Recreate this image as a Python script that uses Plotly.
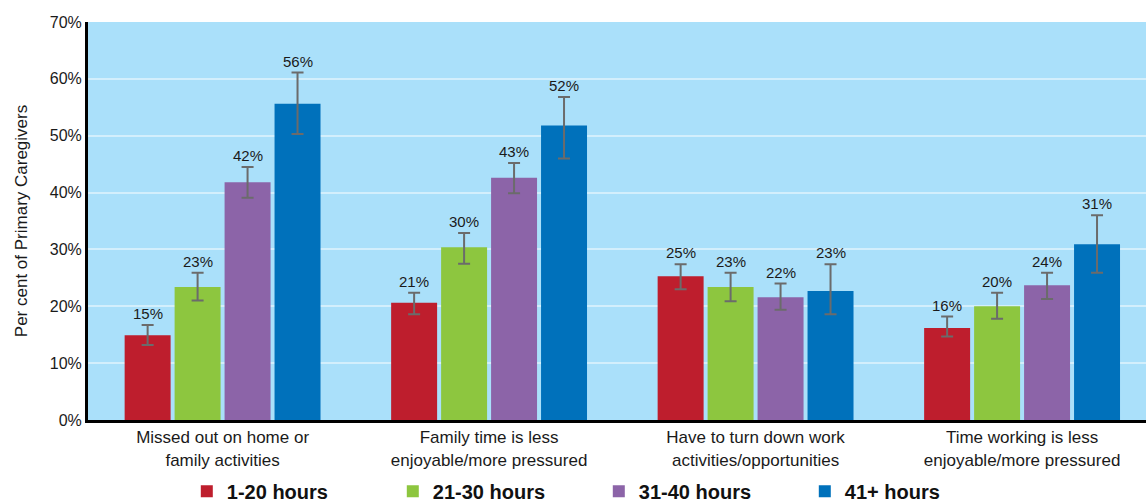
import plotly.graph_objects as go

categories = [
    "Missed out on home or<br>family activities",
    "Family time is less<br>enjoyable/more pressured",
    "Have to turn down work<br>activities/opportunities",
    "Time working is less<br>enjoyable/more pressured",
]
series_names = ["1-20 hours", "21-30 hours", "31-40 hours", "41+ hours"]
colors = ["#BE1E2D", "#8DC63F", "#8C64A8", "#0071BB"]

# values per series (one value per category)
vals_1_20 = [14.9, 20.6, 25.3, 16.2]
vals_21_30 = [23.4, 30.4, 23.4, 20.0]
vals_31_40 = [41.8, 42.6, 21.6, 23.7]
vals_41_plus = [55.6, 51.8, 22.7, 30.9]

# upper / lower confidence limits
hi_1_20 = [16.7, 22.4, 27.4, 18.2]
lo_1_20 = [13.2, 18.6, 23.0, 14.7]
hi_21_30 = [25.9, 32.9, 25.9, 22.4]
lo_21_30 = [21.0, 27.5, 20.9, 17.8]
hi_31_40 = [44.5, 45.2, 24.0, 25.9]
lo_31_40 = [39.1, 39.9, 19.4, 21.3]
hi_41_plus = [61.1, 56.8, 27.4, 36.0]
lo_41_plus = [50.3, 46.0, 18.6, 25.9]

y_ticks = [0, 10, 20, 30, 40, 50, 60, 70]

series_vals = [vals_1_20, vals_21_30, vals_31_40, vals_41_plus]
series_hi = [hi_1_20, hi_21_30, hi_31_40, hi_41_plus]
series_lo = [lo_1_20, lo_21_30, lo_31_40, lo_41_plus]

FONT = "Liberation Sans, Arial, Helvetica, sans-serif"
bargap = 0.25
bargroupgap = 0.08

fig = go.Figure()
for name, col, v, hi, lo in zip(series_names, colors, series_vals, series_hi, series_lo):
    fig.add_trace(go.Bar(
        name=name,
        x=categories,
        y=v,
        marker=dict(color=col, line=dict(width=0)),
        error_y=dict(
            type="data", symmetric=False,
            array=[h - a for h, a in zip(hi, v)],
            arrayminus=[a - l for a, l in zip(v, lo)],
            color="#6B6B6B", thickness=2, width=6,
        ),
    ))

# value labels above the error bars
n = len(series_names)
slot = (1 - bargap) / n
annotations = []
for si, (v, hi) in enumerate(zip(series_vals, series_hi)):
    for ci in range(len(categories)):
        annotations.append(dict(
            x=ci + (si - (n - 1) / 2) * slot, y=hi[ci], xref="x", yref="y",
            text=f"{round(v[ci])}%", showarrow=False, yanchor="bottom", yshift=1,
            font=dict(family=FONT, size=15, color="#1a1a1a"),
        ))

fig.update_layout(
    width=1146, height=503,
    margin=dict(l=88, r=0, t=22, b=83),
    paper_bgcolor="white",
    plot_bgcolor="#AAE0FA",
    barmode="group",
    bargap=bargap,
    bargroupgap=bargroupgap,
    font=dict(family=FONT, color="#1a1a1a"),
    annotations=annotations,
    showlegend=True,
    legend=dict(
        orientation="h",
        xref="container", yref="container",
        x=0.163, y=0.062, xanchor="left", yanchor="top",
        entrywidthmode="pixels", entrywidth=161,
        font=dict(family=FONT, size=20, color="#111111", weight="bold"),
        bgcolor="rgba(0,0,0,0)",
        itemclick=False,
    ),
)
fig.update_yaxes(
    range=[0, 70],
    tickvals=y_ticks,
    ticktext=[f"{t}%" for t in y_ticks],
    showgrid=True, gridcolor="#D3EFFC", gridwidth=2,
    zeroline=False,
    showline=True, linecolor="black", linewidth=3,
    tickfont=dict(family=FONT, size=16, color="#1a1a1a"),
    title=dict(text="Per cent of Primary Caregivers", font=dict(family=FONT, size=17, color="#1a1a1a"), standoff=18),
)
fig.update_xaxes(
    range=[-0.505, 3.465],
    showline=True, linecolor="black", linewidth=3,
    tickfont=dict(family=FONT, size=17, color="#1a1a1a"),
    showgrid=False,
)

fig.write_html(
    "out.html",
    config={"displayModeBar": False},
    post_script="document.body.style.margin='0';document.body.style.padding='0';",
)
